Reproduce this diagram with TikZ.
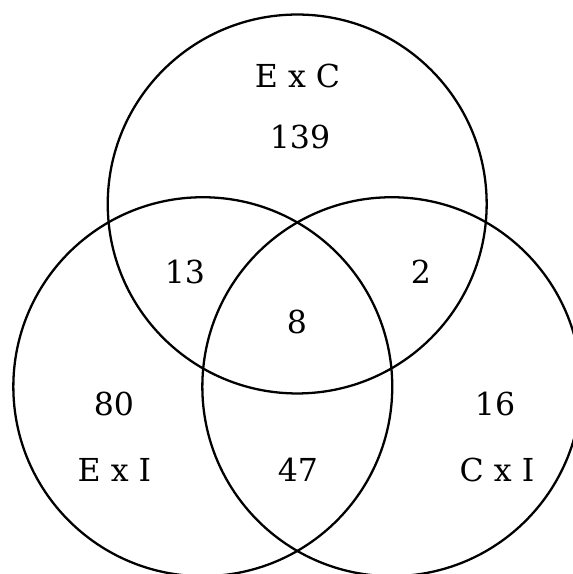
\documentclass[tikz,border=0pt]{standalone}
\usepackage{fontspec}
\setmainfont{DejaVu Serif}
\usepackage{tikz}
\usetikzlibrary{positioning}

\begin{document}
\begin{tikzpicture}[x=0.02cm, y=0.02cm]
\tikzset{
  setcircle/.style={circle, draw, line width=1.3pt, minimum size=7.58cm, inner sep=0pt},
  countlabel/.style={inner sep=0pt, font=\fontsize{18}{22}\selectfont}
}
\useasboundingbox (0,0) rectangle (573,574);

% Sets
\node (ec) [setcircle] at (297.2,370) {};
\node (ei) [setcircle] at (202.8,187.3) {};
\node (ci) [setcircle] at (391.8,187.3) {};

% Set names
\node (ecname) [countlabel] at (297.5,498) {E x C};
\node (einame) [countlabel] at (114.5,104) {E x I};
\node (ciname) [countlabel] at (497,104) {C x I};

% Counts
\node (ec only) [countlabel] at (300,437.5) {139};
\node (ei only) [countlabel] at (114,170.5) {80};
\node (ci only) [countlabel] at (495,170) {16};
\node (ec ei) [countlabel] at (185,302) {13};
\node (ec ci) [countlabel] at (421,302) {2};
\node (ei ci) [countlabel] at (298,104) {47};
\node (all) [countlabel] at (297,252) {8};
\end{tikzpicture}
\end{document}
